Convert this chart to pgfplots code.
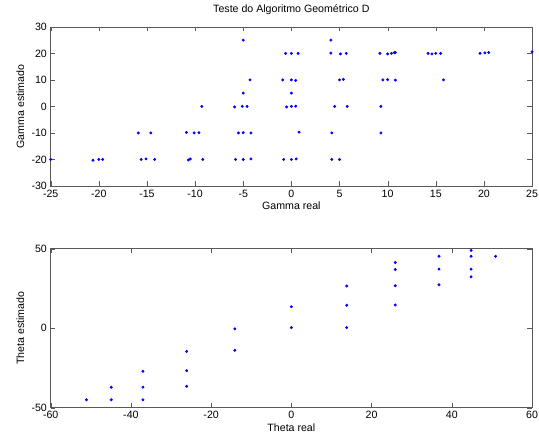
\documentclass[border=0pt]{standalone}
\usepackage{pgfplots}
\pgfplotsset{compat=1.18}
\usepackage{fontspec}
\setmainfont{Liberation Sans}
\begin{document}
\fontsize{8}{9.6}\selectfont
\pgfplotsset{
  mlab/.style={
    scale only axis,
    width=363pt, height=120pt,
    axis line style={black!65},
    tick style={black!65},
    major tick length=3.5pt,
    tick align=inside,
    xtick pos=both, ytick pos=both,
    /pgf/number format/assume math mode=true,
    tick label style={font=\fontsize{8}{9.6}\selectfont},
    label style={font=\fontsize{8}{9.6}\selectfont},
    title style={font=\fontsize{8}{9.6}\selectfont},
    xlabel style={yshift=2pt},
  },
  pts/.style={only marks, mark=*, mark size=0.9pt, color=blue, mark options={draw=blue, fill=blue}},
}
\begin{tikzpicture}
\path[use as bounding box] (-36pt,-190.5pt) rectangle (368.25pt,140.25pt);
\begin{axis}[mlab, at={(0pt,0pt)}, anchor=south west,
    xmin=-25, xmax=25, ymin=-30, ymax=30,
    xtick={-25,-20,...,25}, ytick={-30,-20,...,30},
    title={Teste do Algoritmo Geométrico D},
    xlabel={Gamma real}, ylabel={Gamma estimado}]
\addplot[pts] coordinates {
  (-25,-20) (-20.6,-20.3) (-20.0,-20) (-19.6,-20)
  (-15.6,-20) (-15.1,-19.8) (-14.2,-20)
  (-10.7,-20.2) (-10.5,-19.8) (-9.2,-20)
  (-5.8,-20) (-5.0,-20) (-4.2,-19.8)
  (-0.8,-20) (0,-20) (0.5,-19.8) (4.2,-20) (5.0,-20)
  (-15.9,-10) (-14.6,-10)
  (-10.9,-9.8) (-10.1,-10) (-9.6,-9.9)
  (-5.5,-10) (-5.0,-9.9) (-4.2,-10)
  (0.8,-9.7) (4.2,-10) (9.3,-10)
  (-9.3,0) (-5.9,-0.2) (-5.1,0) (-4.6,0)
  (-0.5,-0.2) (0,0) (0.45,0.1) (4.5,0) (5.8,0) (9.3,0)
  (-5,5) (0,5)
  (-4.3,10) (-0.9,10) (0,10) (0.45,9.8) (5.0,10) (5.4,10.2)
  (9.5,10) (10.0,10.1) (10.8,9.9) (15.8,10)
  (-0.6,20) (0,20) (0.7,20) (4.1,20.1) (5.1,19.8) (5.7,20)
  (9.2,20) (10.0,19.8) (10.4,20) (10.7,20.3) (10.8,20.3)
  (14.2,20) (14.6,19.8) (15.0,20) (15.5,20)
  (19.6,20) (20.1,20.2) (20.5,20.3) (25,20.6)
  (-5.0,25) (4.1,25)
};
\end{axis}
\begin{axis}[mlab, at={(0pt,-167.25pt)}, anchor=south west,
    xmin=-60, xmax=60, ymin=-50, ymax=50,
    xtick={-60,-40,...,60}, ytick={-50,0,50},
    xlabel={Theta real}, ylabel={Theta estimado}]
\addplot[pts] coordinates {
  (-51.1,-45) (-44.9,-37.1) (-44.9,-45)
  (-37,-27.1) (-37,-37.1) (-37,-45)
  (-26.1,-14.6) (-26.1,-26.7) (-26.1,-36.5)
  (-14.1,-0.4) (-14.1,-13.9)
  (0,13.5) (0,0.4)
  (13.8,26.5) (13.8,14.4) (13.8,0.4)
  (25.9,41.3) (25.9,36.9) (25.9,26.7) (25.9,14.6)
  (36.8,45.2) (36.8,37.1) (36.8,27.3)
  (44.8,48.9) (44.8,45.2) (44.8,37.1) (44.8,32.3)
  (50.9,45.2)
};
\end{axis}
\end{tikzpicture}
\end{document}
